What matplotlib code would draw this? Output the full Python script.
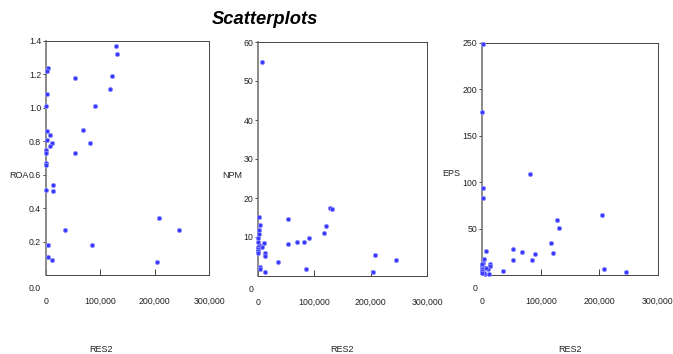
import matplotlib
matplotlib.use("Agg")
import matplotlib.pyplot as plt
from matplotlib.ticker import FuncFormatter

# ---- data ----
res2 = [128000, 130500, 121000, 117500, 53500, 53500, 90500, 68500, 81500, 85500,
        35800, 207500, 204500, 245000, 12900, 13100, 11800, 7600, 10200, 7200,
        3900, 4300, 3200, 1800, 1200, 1000, 800, 1200, 300, 600, 600, 500, 0]
roa = [1.37, 1.32, 1.19, 1.11, 1.18, 0.73, 1.01, 0.87, 0.79, 0.18,
       0.27, 0.34, 0.08, 0.27, 0.54, 0.50, 0.09, 0.84, 0.79, 0.77,
       1.24, 0.18, 0.11, 1.22, 0.86, 1.08, 1.01, 0.81, 0.75, 0.73, 0.67, 0.66, 0.51]
npm = [17.5, 17.1, 12.9, 10.9, 14.5, 8.1, 9.7, 8.6, 8.8, 1.9,
       3.6, 5.3, 0.9, 4.0, 5.8, 5.1, 0.9, 54.9, 8.4, 7.5,
       13.0, 2.2, 1.7, 15.2, 11.7, 10.7, 9.7, 8.0, 7.5, 7.0, 6.5, 6.0, 8.8]
eps = [59.6, 51.0, 24.2, 34.3, 28.5, 16.6, 22.4, 24.5, 108.5, 16.6,
       4.0, 6.9, 64.6, 3.2, 11.5, 10.0, 1.5, 26.4, 6.0, 8.0,
       17.7, 1.5, 2.0, 83.0, 93.5, 249.0, 176.0, 13.0, 10.0, 6.0, 4.0, 2.0, 12.0]

x_ticks = [0, 100000, 200000, 300000]
roa_ticks = [0.2, 0.4, 0.6, 0.8, 1.0, 1.2, 1.4]
npm_ticks = [10, 20, 30, 40, 50, 60]
eps_ticks = [50, 100, 150, 200, 250]

panels = [
    ("ROA", roa, 1.4, roa_ticks, "{:.1f}", "0.0",
     [46, 41, 209, 275], (19, 175), 101),
    ("NPM", npm, 60, npm_ticks, "{:.0f}", "0",
     [258, 42, 427, 276], (232, 176), 342),
    ("EPS", eps, 250, eps_ticks, "{:.0f}", "0",
     [482, 43, 658, 275], (451, 173), 570),
]

W, H = 673, 354
fig = plt.figure(figsize=(W / 100, H / 100), dpi=100)
fig.patch.set_facecolor("white")

fam = ["Liberation Sans Narrow", "Liberation Sans", "DejaVu Sans"]
tick_fs = 6.3

fig.text(265 / W, 1 - 20 / H, "Scatterplots", ha="center", va="center",
         fontsize=13.2, fontweight="bold", fontstyle="italic",
         family=["Liberation Sans", "DejaVu Sans"])

for name, vals, ymax, yticks, fmt, zero_lbl, box, ylab_pos, xlab_x in panels:
    l, t, r, b = box
    ax = fig.add_axes([l / W, 1 - b / H, (r - l) / W, (b - t) / H])
    ax.scatter(res2, vals, s=9, facecolor="#3535ff", edgecolor="#8c8cff",
               linewidths=0.6, zorder=3, clip_on=False)
    ax.set_xlim(0, 300000)
    ax.set_ylim(0, ymax)
    ax.set_xticks(x_ticks)
    ax.xaxis.set_major_formatter(FuncFormatter(lambda v, p: f"{int(v):,}"))
    ax.set_yticks(yticks)
    ax.set_yticklabels([fmt.format(v) for v in yticks])
    ax.tick_params(axis="x", direction="in", length=4, width=0.6, pad=16,
                   labelsize=tick_fs, colors="#222222")
    ax.tick_params(axis="y", direction="out", length=2.5, width=0.6, pad=1,
                   labelsize=tick_fs, colors="#222222")
    for lab in ax.get_xticklabels() + ax.get_yticklabels():
        lab.set_family(fam)
    for sname, sp in ax.spines.items():
        sp.set_linewidth(0.7)
        sp.set_color("#444444")
    ax.spines["left"].set_linewidth(1.2)
    ax.spines["left"].set_color("#777777")
    # zero label of y axis, drawn a bit below the axis as in the reference
    ax.annotate(zero_lbl, xy=(0, 0), xycoords=("axes fraction", "data"),
                xytext=(-3.5, -9.5), textcoords="offset points",
                ha="right", va="center", fontsize=tick_fs, family=fam,
                color="#222222")
    # axis titles
    ax.text((ylab_pos[0] - l) / (r - l), (b - ylab_pos[1]) / (b - t), name,
            transform=ax.transAxes, ha="center", va="center",
            fontsize=6.5, family=fam, color="#222222")
    ax.text((xlab_x - l) / (r - l), (b - 349) / (b - t), "RES2",
            transform=ax.transAxes, ha="center", va="center",
            fontsize=6.5, family=fam, color="#222222")

fig.savefig("out.png", dpi=100, facecolor="white")
